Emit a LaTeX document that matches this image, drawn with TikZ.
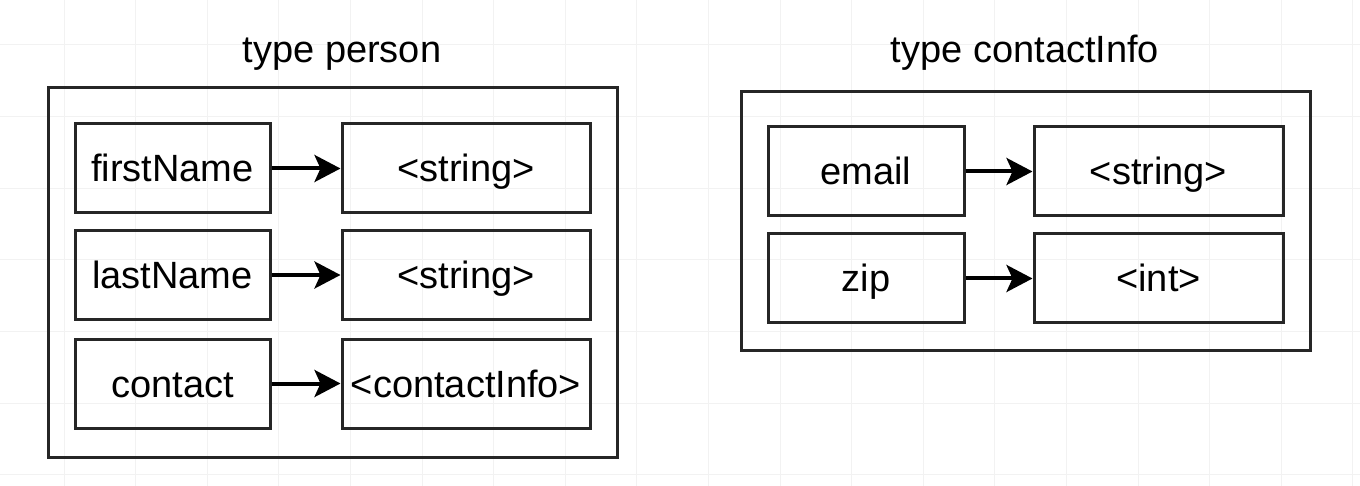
\documentclass[tikz,border=0pt]{standalone}
\usepackage{fontspec}
\setmainfont{Liberation Sans}
\usetikzlibrary{arrows.meta}
\tikzset{
  gridline/.style={draw=black!5,line width=1pt},
  frame/.style={draw=black!85,line width=3pt,inner sep=0pt},
  field/.style={draw=black!85,line width=3pt,minimum height=89pt,inner sep=0pt,text height=27pt,text depth=0pt,font=\fontsize{38}{44}\selectfont},
  link/.style={line width=4pt,-{Stealth[length=26pt,width=27pt,inset=6pt]}},
  title/.style={anchor=base,font=\fontsize{38}{44}\selectfont}
}
\begin{document}
\begin{tikzpicture}[x=1pt,y=-1pt]
\fill[white](0,0)rectangle(1360,486);
\useasboundingbox(0,0)rectangle(1360,486);
\foreach \i in {0,...,18}
  \draw[gridline]({64+71.6*\i},0)--++(0,486);
\foreach \j in {0,...,6}
  \draw[gridline](0,{45+71.6*\j})--++(1360,0);
% type person
\node[frame,minimum width=569pt,minimum height=369pt](person) at (332.5,272.5){};
\node[title](personT) at (342,63){type person};
\node[field,minimum width=195pt](fname) at (172.5,168.5){firstName};
\node[field,minimum width=248pt](fnameT) at (466,168.5){<string>};
\node[field,minimum width=195pt](lname) at (172.5,275){lastName};
\node[field,minimum width=248pt](lnameT) at (466,275){<string>};
\node[field,minimum width=195pt](contact) at (172.5,383.5){contact};
\node[field,minimum width=248pt](contactT) at (466,383.5){<contactInfo>};
\draw[link](fname)--(fnameT);
\draw[link](lname)--(lnameT);
\draw[link](contact)--(contactT);
% type contactInfo
\node[frame,minimum width=569pt,minimum height=258pt](info) at (1025.5,221){};
\node[title](infoT) at (1025,63){type contactInfo};
\node[field,minimum width=196pt](email) at (866,171.5){email};
\node[field,minimum width=249pt](emailT) at (1158.5,171.5){<string>};
\node[field,minimum width=196pt](zip) at (866,278.5){zip};
\node[field,minimum width=249pt](zipT) at (1158.5,278.5){<int>};
\draw[link](email)--(emailT);
\draw[link](zip)--(zipT);
\end{tikzpicture}
\end{document}
